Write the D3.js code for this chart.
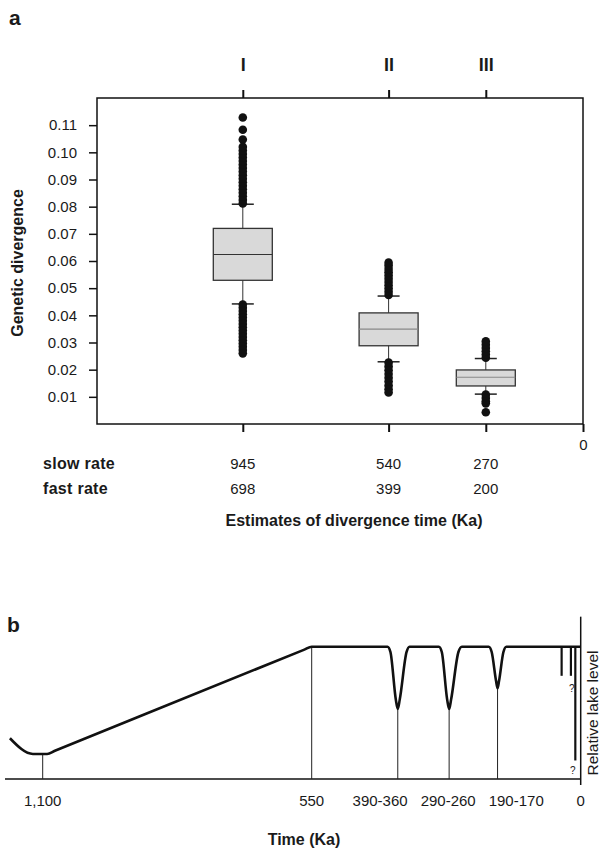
<!DOCTYPE html>
<html>
<head>
<meta charset="utf-8">
<script src="https://cdn.jsdelivr.net/npm/d3@7"></script>
<style>
  body { margin: 0; background: #fff; }
  text { font-family: "Liberation Sans", Arial, Helvetica, sans-serif; fill: #1a1a1a; }
</style>
</head>
<body>
<script>
// ---- panel a data ----
var groups = ["I", "II", "III"];
var slowRate = [945, 540, 270];
var fastRate = [698, 399, 200];
var yTicks = [0.01, 0.02, 0.03, 0.04, 0.05, 0.06, 0.07, 0.08, 0.09, 0.10, 0.11];
// whisker low, q1, median, q3, whisker high
var boxStats = [
  [0.0442, 0.0529, 0.0624, 0.0720, 0.0809],
  [0.0229, 0.0288, 0.0349, 0.0409, 0.0471],
  [0.0110, 0.0140, 0.0172, 0.0199, 0.0241]
];
var outliersI = [0.0812, 0.0825, 0.0838, 0.0851, 0.0864, 0.0877, 0.0890, 0.0903, 0.0916, 0.0929,
  0.0942, 0.0955, 0.0968, 0.0981, 0.0994, 0.1007, 0.1020, 0.1047, 0.1083, 0.1128,
  0.0440, 0.0428, 0.0416, 0.0404, 0.0392, 0.0380, 0.0368, 0.0356, 0.0344, 0.0332,
  0.0320, 0.0308, 0.0296, 0.0284, 0.0272, 0.0260];
var outliersII = [0.0475, 0.0487, 0.0499, 0.0511, 0.0523, 0.0535, 0.0547, 0.0559, 0.0571, 0.0583, 0.0594,
  0.0226, 0.0212, 0.0198, 0.0184, 0.0170, 0.0156, 0.0142, 0.0128, 0.0116];
var outliersIII = [0.0244, 0.0256, 0.0268, 0.0280, 0.0292, 0.0304,
  0.0108, 0.0096, 0.0084, 0.0076, 0.0043];

// ---- panel b data ----
var lakeTime  = [1167, 1120, 1091, 1075, 565, 550, 395, 389, 378, 374, 370, 356, 350,
  290, 284, 273, 269, 265, 250, 243, 188, 182, 173, 170, 167, 158, 152, 0];
var lakeLevel = [0.308, 0.189, 0.189, 0.213, 0.978, 1.0, 1.0, 0.96, 0.60, 0.529, 0.60, 0.96, 1.0,
  1.0, 0.96, 0.60, 0.529, 0.60, 0.96, 1.0, 1.0, 0.96, 0.74, 0.686, 0.74, 0.96, 1.0, 1.0];
var markTime  = [1100, 550, 374, 269, 170];          // vertical guide lines
var markLevel = [0.189, 1.0, 0.529, 0.529, 0.686];
var labelTime = [1100, 550, 374, 269, 170, 0];
var labelText = ["1,100", "550", "390-360", "290-260", "190-170", "0"];
var barTime = [39, 20, 11];
var barLow  = [0.78, 0.78, 0.14];
var qTime = [18, 16];
var qLevel = [0.69, 0.07];

var svg = d3.select("body").append("svg")
  .attr("width", 600)
  .attr("height", 850);

// =============== panel a ===============
var xA = d3.scaleLinear().domain([1350, 0]).range([97, 583]);
var yA = d3.scaleLinear().domain([0, 0.12]).range([424, 98]);

svg.append("text").attr("x", 9).attr("y", 25)
  .style("font-size", "21px").style("font-weight", "bold").text("a");

svg.append("rect")
  .attr("x", xA(1350)).attr("y", yA(0.12))
  .attr("width", xA(0) - xA(1350)).attr("height", yA(0) - yA(0.12))
  .attr("fill", "none").attr("stroke", "#111").attr("stroke-width", 1.5);

var yAxis = svg.append("g")
  .attr("transform", "translate(" + xA(1350) + ",0)")
  .call(d3.axisLeft(yA).tickValues(yTicks).tickFormat(d3.format(".2f")).tickSize(8).tickPadding(12));
yAxis.select(".domain").remove();
yAxis.selectAll("line").attr("stroke", "#111").attr("stroke-width", 1.5);
yAxis.selectAll("text").style("font-size", "15px").attr("fill", "#1a1a1a")
  .style("font-family", "'Liberation Sans', Arial, sans-serif");

var topAxis = svg.append("g")
  .attr("transform", "translate(0," + yA(0.12) + ")")
  .call(d3.axisTop(xA).tickValues(slowRate).tickFormat(function(d, i) { return groups[i]; })
    .tickSize(8).tickPadding(19));
topAxis.select(".domain").remove();
topAxis.selectAll("line").attr("stroke", "#111").attr("stroke-width", 2);
topAxis.selectAll("text").style("font-size", "18px").style("font-weight", "bold").attr("fill", "#1a1a1a")
  .style("font-family", "'Liberation Sans', Arial, sans-serif");

var botAxis = svg.append("g")
  .attr("transform", "translate(0," + yA(0) + ")")
  .call(d3.axisBottom(xA).tickValues(slowRate.concat([0]))
    .tickFormat(function(d) { return d === 0 ? "0" : ""; })
    .tickSize(8).tickPadding(7));
botAxis.select(".domain").remove();
botAxis.selectAll("line").attr("stroke", "#111").attr("stroke-width", 2);
botAxis.selectAll("text").style("font-size", "15px").attr("fill", "#1a1a1a")
  .style("font-family", "'Liberation Sans', Arial, sans-serif");

svg.append("text")
  .attr("transform", "translate(23,263) rotate(-90)")
  .attr("text-anchor", "middle")
  .style("font-size", "16px").style("font-weight", "bold")
  .text("Genetic divergence");

// boxes
var boxW = 59, capW = 22;
var boxes = svg.append("g").selectAll("g")
  .data(boxStats)
  .enter().append("g");

boxes.append("line")
  .attr("x1", function(d, i) { return xA(slowRate[i]); })
  .attr("x2", function(d, i) { return xA(slowRate[i]); })
  .attr("y1", function(d) { return yA(d[0]); })
  .attr("y2", function(d) { return yA(d[4]); })
  .attr("stroke", "#333").attr("stroke-width", 1);

boxes.selectAll(".cap")
  .data(function(d, i) { return [[d[0], i], [d[4], i]]; })
  .enter().append("line")
  .attr("x1", function(d) { return xA(slowRate[d[1]]) - capW / 2; })
  .attr("x2", function(d) { return xA(slowRate[d[1]]) + capW / 2; })
  .attr("y1", function(d) { return yA(d[0]); })
  .attr("y2", function(d) { return yA(d[0]); })
  .attr("stroke", "#222").attr("stroke-width", 1.5);

boxes.append("rect")
  .attr("x", function(d, i) { return xA(slowRate[i]) - boxW / 2; })
  .attr("y", function(d) { return yA(d[3]); })
  .attr("width", boxW)
  .attr("height", function(d) { return yA(d[1]) - yA(d[3]); })
  .attr("fill", "#d9d9d9").attr("stroke", "#333").attr("stroke-width", 1.3);

boxes.append("line")
  .attr("x1", function(d, i) { return xA(slowRate[i]) - boxW / 2; })
  .attr("x2", function(d, i) { return xA(slowRate[i]) + boxW / 2; })
  .attr("y1", function(d) { return yA(d[2]); })
  .attr("y2", function(d) { return yA(d[2]); })
  .attr("stroke", function(d, i) { return i === 0 ? "#333" : "#888"; })
  .attr("stroke-width", 1.2);

// outliers
var outl = [outliersI, outliersII, outliersIII];
outl.forEach(function(arr, i) {
  svg.append("g").selectAll("circle")
    .data(arr)
    .enter().append("circle")
    .attr("cx", xA(slowRate[i]))
    .attr("cy", function(d) { return yA(d); })
    .attr("r", 4.3)
    .attr("fill", "#111");
});

// rate rows
svg.append("text").attr("x", 43).attr("y", 468.5)
  .style("font-size", "16px").style("font-weight", "bold").style("letter-spacing", "0.3px").text("slow rate");
svg.append("text").attr("x", 43).attr("y", 493.5)
  .style("font-size", "16px").style("font-weight", "bold").style("letter-spacing", "0.3px").text("fast rate");
svg.append("g").selectAll("text").data(slowRate).enter().append("text")
  .attr("x", function(d) { return xA(d); }).attr("y", 468.5)
  .attr("text-anchor", "middle").style("font-size", "15px").text(function(d) { return d; });
svg.append("g").selectAll("text").data(fastRate).enter().append("text")
  .attr("x", function(d, i) { return xA(slowRate[i]); }).attr("y", 493.5)
  .attr("text-anchor", "middle").style("font-size", "15px").text(function(d) { return d; });

svg.append("text").attr("x", 354).attr("y", 526)
  .attr("text-anchor", "middle")
  .style("font-size", "16px").style("font-weight", "bold")
  .text("Estimates of divergence time (Ka)");

// =============== panel b ===============
var xB = d3.scaleLinear().domain([1100, 0]).range([42.7, 580.7]);
var yB = d3.scaleLinear().domain([0, 1]).range([779, 646.7]);

svg.append("text").attr("x", 7).attr("y", 632)
  .style("font-size", "21px").style("font-weight", "bold").text("b");

// baseline and right axis
svg.append("line")
  .attr("x1", 5).attr("x2", xB(0))
  .attr("y1", yB(0)).attr("y2", yB(0))
  .attr("stroke", "#111").attr("stroke-width", 1.5);
svg.append("line")
  .attr("x1", xB(0)).attr("x2", xB(0))
  .attr("y1", yB(0) + 6).attr("y2", yB(1.227))
  .attr("stroke", "#111").attr("stroke-width", 1.5);

// guide lines
svg.append("g").selectAll("line")
  .data(markTime)
  .enter().append("line")
  .attr("x1", function(d) { return xB(d); })
  .attr("x2", function(d) { return xB(d); })
  .attr("y1", function(d, i) { return yB(markLevel[i]); })
  .attr("y2", yB(0))
  .attr("stroke", "#222").attr("stroke-width", 1);

// lake level curve
var lakeData = lakeTime.map(function(t, i) { return { t: t, v: lakeLevel[i] }; });
var line = d3.line()
  .x(function(d) { return xB(d.t); })
  .y(function(d) { return yB(d.v); })
  .curve(d3.curveMonotoneX);
svg.append("path")
  .datum(lakeData)
  .attr("d", line)
  .attr("fill", "none")
  .attr("stroke", "#111")
  .attr("stroke-width", 2.6)
  .attr("stroke-linejoin", "round");

// recent uncertain drops
svg.append("g").selectAll("line")
  .data(barTime)
  .enter().append("line")
  .attr("x1", function(d) { return xB(d); })
  .attr("x2", function(d) { return xB(d); })
  .attr("y1", yB(1))
  .attr("y2", function(d, i) { return yB(barLow[i]); })
  .attr("stroke", "#111").attr("stroke-width", 2.2);
svg.append("g").selectAll("text")
  .data(qTime)
  .enter().append("text")
  .attr("x", function(d) { return xB(d); })
  .attr("y", function(d, i) { return yB(qLevel[i]) + 4; })
  .attr("text-anchor", "middle")
  .style("font-size", "10px").attr("fill", "#444")
  .text("?");

// time labels, pushed apart where they would collide
var labels = svg.append("g").selectAll("text")
  .data(labelText)
  .enter().append("text")
  .attr("y", 806)
  .attr("text-anchor", "middle")
  .style("font-size", "15px")
  .attr("fill", "#222")
  .text(function(d) { return d; });
var pos = labelTime.map(function(t) { return xB(t); });
var wid = [];
labels.each(function() { wid.push(this.getComputedTextLength()); });
for (var it = 0; it < 50; it++) {
  for (var i = 1; i < pos.length; i++) {
    var need = (wid[i] + wid[i - 1]) / 2 + 13;
    var gap = pos[i] - pos[i - 1];
    if (gap < need && i < pos.length - 1 && i > 1) {
      var push = (need - gap) / 2;
      pos[i - 1] -= push;
      pos[i] += push;
    }
  }
}
labels.attr("x", function(d, i) { return pos[i]; });

svg.append("text")
  .attr("transform", "translate(598,713) rotate(-90)")
  .attr("text-anchor", "middle")
  .style("font-size", "15.5px")
  .attr("fill", "#333")
  .text("Relative lake level");

svg.append("text").attr("x", 304).attr("y", 845)
  .attr("text-anchor", "middle")
  .style("font-size", "16px").style("font-weight", "bold")
  .text("Time (Ka)");
</script>
</body>
</html>
